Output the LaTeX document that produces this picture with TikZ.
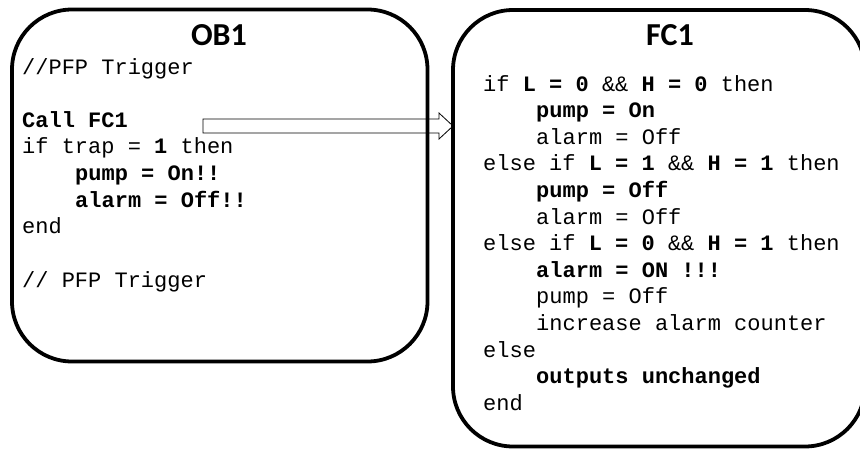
\documentclass[tikz,border=0pt]{standalone}
\usepackage{fontspec}
\setmonofont{Liberation Mono}
\newfontfamily\titlefont{Carlito}
\usetikzlibrary{calc}
\tikzset{
  blockbox/.style={draw=black, line width=3.8pt, rounded corners=60pt, inner sep=0pt},
  titletext/.style={anchor=base, inner sep=0pt, font=\titlefont\bfseries\fontsize{32}{32}\selectfont},
  codeline/.style={anchor=base west, inner sep=0pt, font=\ttfamily\fontsize{22}{22}\selectfont},
  blockarrow/.style={draw=black, line width=0.8pt, fill=white}
}
\begin{document}
\begin{tikzpicture}[x=1pt,y=-1pt]
\useasboundingbox (0,0) rectangle (860,448);
\clip (0,0) rectangle (860,448);
\coordinate (arrS) at (203,126);
\coordinate (fcW) at (453,126);
% block arrow (drawn first, under box borders)
\draw[blockarrow] ($(arrS)+(0,-7)$) -- ($(fcW)+(-14,-7)$) -- ($(fcW)+(-14,-13)$) -- (fcW)
  -- ($(fcW)+(-14,13)$) -- ($(fcW)+(-14,7)$) -- ($(arrS)+(0,7)$) -- cycle;
\node[blockbox, minimum width=415.5pt, minimum height=352pt] (ob1box) at (219.75,185.5) {};
\node[blockbox, minimum width=412pt, minimum height=436.5pt] (fc1box) at (659,228.25) {};
% titles
\node[titletext] (ob1title) at (219,45) {OB1};
\node[titletext] (fc1title) at (670,45) {FC1};
% OB1 code
\node[codeline] (o1) at (22,74) {//PFP Trigger};
\node[codeline] (o2) at (22,127) {\bfseries Call FC1};
\node[codeline] (o3) at (22,153.5) {if trap = \textbf{1} then};
\node[codeline] (o4) at (75,180) {\bfseries pump = On!!};
\node[codeline] (o5) at (75,207) {\bfseries alarm = Off!!};
\node[codeline] (o6) at (22,233) {end};
\node[codeline] (o7) at (22,287) {// PFP Trigger};
% FC1 code
\node[codeline] (f1) at (483,91) {if \textbf{L = 0} \&\& \textbf{H = 0} then};
\node[codeline] (f2) at (536,117.6) {\bfseries pump = On};
\node[codeline] (f3) at (536,144.2) {alarm = Off};
\node[codeline] (f4) at (483,170.8) {else if \textbf{L = 1} \&\& \textbf{H = 1} then};
\node[codeline] (f5) at (536,197.4) {\bfseries pump = Off};
\node[codeline] (f6) at (536,224) {alarm = Off};
\node[codeline] (f7) at (483,250.6) {else if \textbf{L = 0} \&\& \textbf{H = 1} then};
\node[codeline] (f8) at (536,277.2) {\bfseries alarm = ON !!!};
\node[codeline] (f9) at (536,303.8) {pump = Off};
\node[codeline] (f10) at (536,330.4) {increase alarm counter};
\node[codeline] (f11) at (483,357) {else};
\node[codeline] (f12) at (536,383.6) {\bfseries outputs unchanged};
\node[codeline] (f13) at (483,410.2) {end};
\end{tikzpicture}
\end{document}
